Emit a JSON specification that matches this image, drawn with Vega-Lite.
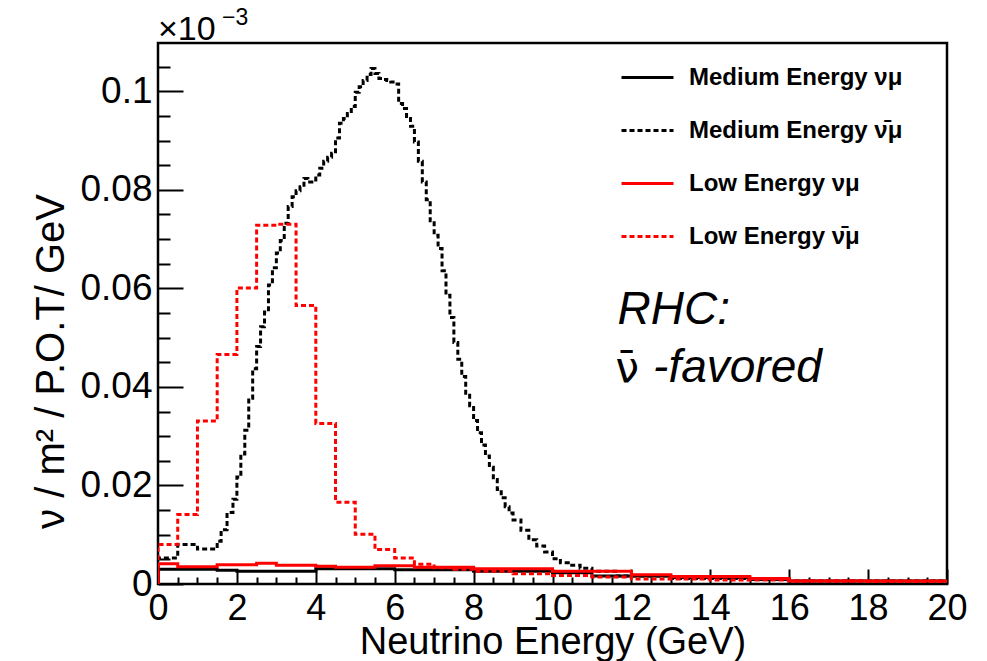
{
  "$schema": "https://vega.github.io/schema/vega-lite/v6.json",
  "width": 789,
  "height": 541,
  "autosize": {"type": "none"},
  "padding": {"left": 158, "top": 43, "right": 40, "bottom": 77},
  "background": "white",
  "config": {
    "font": "Liberation Sans",
    "view": {"stroke": "black", "strokeWidth": 2.5},
    "axis": {"grid": false, "domain": false, "labelColor": "black", "titleColor": "black", "tickColor": "black", "tickWidth": 2},
    "legend": {
      "orient": "none", "legendX": 462, "legendY": 7, "padding": 0,
      "symbolType": "stroke", "symbolSize": 2704, "symbolStrokeWidth": 3,
      "labelFont": "Liberation Sans", "labelFontWeight": "bold", "labelFontSize": 24, "labelLimit": 400,
      "labelColor": "black", "labelOffset": 14, "rowPadding": 13, "title": null
    }
  },
  "data": {"values": [
    {"series": "Medium Energy νμ", "E": 0, "v": 0},
    {"series": "Medium Energy νμ", "E": 0, "v": 0.0030},
    {"series": "Medium Energy νμ", "E": 1.5, "v": 0.0028},
    {"series": "Medium Energy νμ", "E": 2.0, "v": 0.0026},
    {"series": "Medium Energy νμ", "E": 4.0, "v": 0.0031},
    {"series": "Medium Energy νμ", "E": 6.0, "v": 0.0029},
    {"series": "Medium Energy νμ", "E": 8.0, "v": 0.0026},
    {"series": "Medium Energy νμ", "E": 10.0, "v": 0.0023},
    {"series": "Medium Energy νμ", "E": 11.0, "v": 0.0016},
    {"series": "Medium Energy νμ", "E": 13.0, "v": 0.0013},
    {"series": "Medium Energy νμ", "E": 15.0, "v": 0.0009},
    {"series": "Medium Energy νμ", "E": 16.0, "v": 0.0006},
    {"series": "Medium Energy νμ", "E": 20.0, "v": 0.0006},

    {"series": "Medium Energy ν̄μ", "E": 0, "v": 0},
    {"series": "Medium Energy ν̄μ", "E": 0, "v": 0.0053},
    {"series": "Medium Energy ν̄μ", "E": 0.5, "v": 0.008},
    {"series": "Medium Energy ν̄μ", "E": 1.0, "v": 0.0071},
    {"series": "Medium Energy ν̄μ", "E": 1.5, "v": 0.0087},
    {"series": "Medium Energy ν̄μ", "E": 1.6, "v": 0.011},
    {"series": "Medium Energy ν̄μ", "E": 1.75, "v": 0.0145},
    {"series": "Medium Energy ν̄μ", "E": 1.9, "v": 0.0172},
    {"series": "Medium Energy ν̄μ", "E": 2.0, "v": 0.0217},
    {"series": "Medium Energy ν̄μ", "E": 2.1, "v": 0.0264},
    {"series": "Medium Energy ν̄μ", "E": 2.2, "v": 0.0312},
    {"series": "Medium Energy ν̄μ", "E": 2.3, "v": 0.0377},
    {"series": "Medium Energy ν̄μ", "E": 2.4, "v": 0.0437},
    {"series": "Medium Energy ν̄μ", "E": 2.5, "v": 0.0482},
    {"series": "Medium Energy ν̄μ", "E": 2.6, "v": 0.0522},
    {"series": "Medium Energy ν̄μ", "E": 2.7, "v": 0.0552},
    {"series": "Medium Energy ν̄μ", "E": 2.8, "v": 0.0607},
    {"series": "Medium Energy ν̄μ", "E": 2.9, "v": 0.0642},
    {"series": "Medium Energy ν̄μ", "E": 3.0, "v": 0.0672},
    {"series": "Medium Energy ν̄μ", "E": 3.1, "v": 0.0697},
    {"series": "Medium Energy ν̄μ", "E": 3.2, "v": 0.0732},
    {"series": "Medium Energy ν̄μ", "E": 3.3, "v": 0.0766},
    {"series": "Medium Energy ν̄μ", "E": 3.4, "v": 0.0786},
    {"series": "Medium Energy ν̄μ", "E": 3.5, "v": 0.0798},
    {"series": "Medium Energy ν̄μ", "E": 3.6, "v": 0.0806},
    {"series": "Medium Energy ν̄μ", "E": 3.7, "v": 0.0823},
    {"series": "Medium Energy ν̄μ", "E": 3.8, "v": 0.0816},
    {"series": "Medium Energy ν̄μ", "E": 3.9, "v": 0.082},
    {"series": "Medium Energy ν̄μ", "E": 4.0, "v": 0.083},
    {"series": "Medium Energy ν̄μ", "E": 4.1, "v": 0.0844},
    {"series": "Medium Energy ν̄μ", "E": 4.2, "v": 0.0858},
    {"series": "Medium Energy ν̄μ", "E": 4.3, "v": 0.0866},
    {"series": "Medium Energy ν̄μ", "E": 4.4, "v": 0.0874},
    {"series": "Medium Energy ν̄μ", "E": 4.5, "v": 0.0905},
    {"series": "Medium Energy ν̄μ", "E": 4.6, "v": 0.0935},
    {"series": "Medium Energy ν̄μ", "E": 4.7, "v": 0.0945},
    {"series": "Medium Energy ν̄μ", "E": 4.8, "v": 0.0955},
    {"series": "Medium Energy ν̄μ", "E": 4.9, "v": 0.0969},
    {"series": "Medium Energy ν̄μ", "E": 5.0, "v": 0.0998},
    {"series": "Medium Energy ν̄μ", "E": 5.1, "v": 0.1009},
    {"series": "Medium Energy ν̄μ", "E": 5.2, "v": 0.1022},
    {"series": "Medium Energy ν̄μ", "E": 5.3, "v": 0.1034},
    {"series": "Medium Energy ν̄μ", "E": 5.4, "v": 0.1046},
    {"series": "Medium Energy ν̄μ", "E": 5.5, "v": 0.1036},
    {"series": "Medium Energy ν̄μ", "E": 5.6, "v": 0.1026},
    {"series": "Medium Energy ν̄μ", "E": 5.7, "v": 0.1024},
    {"series": "Medium Energy ν̄μ", "E": 5.8, "v": 0.1022},
    {"series": "Medium Energy ν̄μ", "E": 5.9, "v": 0.1019},
    {"series": "Medium Energy ν̄μ", "E": 6.0, "v": 0.1015},
    {"series": "Medium Energy ν̄μ", "E": 6.1, "v": 0.0975},
    {"series": "Medium Energy ν̄μ", "E": 6.2, "v": 0.0965},
    {"series": "Medium Energy ν̄μ", "E": 6.3, "v": 0.0945},
    {"series": "Medium Energy ν̄μ", "E": 6.4, "v": 0.0929},
    {"series": "Medium Energy ν̄μ", "E": 6.5, "v": 0.0897},
    {"series": "Medium Energy ν̄μ", "E": 6.6, "v": 0.0858},
    {"series": "Medium Energy ν̄μ", "E": 6.7, "v": 0.0816},
    {"series": "Medium Energy ν̄μ", "E": 6.8, "v": 0.078},
    {"series": "Medium Energy ν̄μ", "E": 6.9, "v": 0.0737},
    {"series": "Medium Energy ν̄μ", "E": 7.0, "v": 0.0708},
    {"series": "Medium Energy ν̄μ", "E": 7.1, "v": 0.0681},
    {"series": "Medium Energy ν̄μ", "E": 7.2, "v": 0.0636},
    {"series": "Medium Energy ν̄μ", "E": 7.3, "v": 0.0586},
    {"series": "Medium Energy ν̄μ", "E": 7.4, "v": 0.0541},
    {"series": "Medium Energy ν̄μ", "E": 7.5, "v": 0.049},
    {"series": "Medium Energy ν̄μ", "E": 7.6, "v": 0.0456},
    {"series": "Medium Energy ν̄μ", "E": 7.7, "v": 0.0421},
    {"series": "Medium Energy ν̄μ", "E": 7.8, "v": 0.0387},
    {"series": "Medium Energy ν̄μ", "E": 7.9, "v": 0.0362},
    {"series": "Medium Energy ν̄μ", "E": 8.0, "v": 0.0332},
    {"series": "Medium Energy ν̄μ", "E": 8.1, "v": 0.0307},
    {"series": "Medium Energy ν̄μ", "E": 8.2, "v": 0.0282},
    {"series": "Medium Energy ν̄μ", "E": 8.3, "v": 0.026},
    {"series": "Medium Energy ν̄μ", "E": 8.4, "v": 0.0237},
    {"series": "Medium Energy ν̄μ", "E": 8.5, "v": 0.0212},
    {"series": "Medium Energy ν̄μ", "E": 8.6, "v": 0.0192},
    {"series": "Medium Energy ν̄μ", "E": 8.7, "v": 0.0175},
    {"series": "Medium Energy ν̄μ", "E": 8.8, "v": 0.0157},
    {"series": "Medium Energy ν̄μ", "E": 8.9, "v": 0.0144},
    {"series": "Medium Energy ν̄μ", "E": 9.0, "v": 0.013},
    {"series": "Medium Energy ν̄μ", "E": 9.2, "v": 0.0109},
    {"series": "Medium Energy ν̄μ", "E": 9.4, "v": 0.009},
    {"series": "Medium Energy ν̄μ", "E": 9.6, "v": 0.0077},
    {"series": "Medium Energy ν̄μ", "E": 9.8, "v": 0.0065},
    {"series": "Medium Energy ν̄μ", "E": 10.0, "v": 0.0051},
    {"series": "Medium Energy ν̄μ", "E": 10.2, "v": 0.0043},
    {"series": "Medium Energy ν̄μ", "E": 10.4, "v": 0.0038},
    {"series": "Medium Energy ν̄μ", "E": 10.7, "v": 0.0032},
    {"series": "Medium Energy ν̄μ", "E": 11.0, "v": 0.0026},
    {"series": "Medium Energy ν̄μ", "E": 11.6, "v": 0.0016},
    {"series": "Medium Energy ν̄μ", "E": 13.0, "v": 0.0011},
    {"series": "Medium Energy ν̄μ", "E": 16.0, "v": 0.0006},
    {"series": "Medium Energy ν̄μ", "E": 20.0, "v": 0.0006},

    {"series": "Low Energy νμ", "E": 0, "v": 0},
    {"series": "Low Energy νμ", "E": 0, "v": 0.0041},
    {"series": "Low Energy νμ", "E": 0.5, "v": 0.0035},
    {"series": "Low Energy νμ", "E": 1.5, "v": 0.0039},
    {"series": "Low Energy νμ", "E": 2.5, "v": 0.0042},
    {"series": "Low Energy νμ", "E": 3.0, "v": 0.0038},
    {"series": "Low Energy νμ", "E": 4.0, "v": 0.0036},
    {"series": "Low Energy νμ", "E": 4.5, "v": 0.0034},
    {"series": "Low Energy νμ", "E": 5.5, "v": 0.0037},
    {"series": "Low Energy νμ", "E": 6.5, "v": 0.0034},
    {"series": "Low Energy νμ", "E": 8.0, "v": 0.0031},
    {"series": "Low Energy νμ", "E": 10.0, "v": 0.0026},
    {"series": "Low Energy νμ", "E": 12.0, "v": 0.0019},
    {"series": "Low Energy νμ", "E": 13.0, "v": 0.0015},
    {"series": "Low Energy νμ", "E": 15.0, "v": 0.0011},
    {"series": "Low Energy νμ", "E": 16.0, "v": 0.0006},
    {"series": "Low Energy νμ", "E": 20.0, "v": 0.0006},

    {"series": "Low Energy ν̄μ", "E": 0, "v": 0},
    {"series": "Low Energy ν̄μ", "E": 0, "v": 0.008},
    {"series": "Low Energy ν̄μ", "E": 0.5, "v": 0.0141},
    {"series": "Low Energy ν̄μ", "E": 1.0, "v": 0.0331},
    {"series": "Low Energy ν̄μ", "E": 1.5, "v": 0.0466},
    {"series": "Low Energy ν̄μ", "E": 2.0, "v": 0.0601},
    {"series": "Low Energy ν̄μ", "E": 2.5, "v": 0.0728},
    {"series": "Low Energy ν̄μ", "E": 3.0, "v": 0.073},
    {"series": "Low Energy ν̄μ", "E": 3.5, "v": 0.0565},
    {"series": "Low Energy ν̄μ", "E": 4.0, "v": 0.0326},
    {"series": "Low Energy ν̄μ", "E": 4.5, "v": 0.0166},
    {"series": "Low Energy ν̄μ", "E": 5.0, "v": 0.0101},
    {"series": "Low Energy ν̄μ", "E": 5.5, "v": 0.007},
    {"series": "Low Energy ν̄μ", "E": 6.0, "v": 0.0053},
    {"series": "Low Energy ν̄μ", "E": 6.5, "v": 0.004},
    {"series": "Low Energy ν̄μ", "E": 7.0, "v": 0.0033},
    {"series": "Low Energy ν̄μ", "E": 7.5, "v": 0.003},
    {"series": "Low Energy ν̄μ", "E": 8.0, "v": 0.0026},
    {"series": "Low Energy ν̄μ", "E": 9.0, "v": 0.0021},
    {"series": "Low Energy ν̄μ", "E": 10.0, "v": 0.0017},
    {"series": "Low Energy ν̄μ", "E": 11.0, "v": 0.0014},
    {"series": "Low Energy ν̄μ", "E": 12.0, "v": 0.001},
    {"series": "Low Energy ν̄μ", "E": 14.0, "v": 0.0008},
    {"series": "Low Energy ν̄μ", "E": 16.0, "v": 0.0006},
    {"series": "Low Energy ν̄μ", "E": 18.0, "v": 0.0005},
    {"series": "Low Energy ν̄μ", "E": 20.0, "v": 0.0005}
  ]},
  "resolve": {"axis": {"x": "independent", "y": "independent"}},
  "layer": [
    {
      "mark": {"type": "line", "interpolate": "step-after", "strokeWidth": 3, "clip": true},
      "encoding": {
        "x": {"field": "E", "type": "quantitative",
          "scale": {"domain": [0, 20], "nice": false, "zero": false},
          "axis": {"orient": "bottom", "values": [0, 2, 4, 6, 8, 10, 12, 14, 16, 18, 20], "format": "d",
            "tickSize": -15, "labelPadding": 22.5, "labelFontSize": 36, "labelFlush": false, "labelOverlap": false,
            "title": "Neutrino Energy (GeV)", "titleFontSize": 38, "titleFontWeight": "normal",
            "titleX": 394.5, "titleY": 69.5, "titleAnchor": null, "titleAlign": "center", "titleBaseline": "alphabetic"}},
        "y": {"field": "v", "type": "quantitative",
          "scale": {"domain": [0, 0.1098], "nice": false, "zero": true},
          "axis": {"orient": "left", "values": [0, 0.02, 0.04, 0.06, 0.08, 0.1], "labelExpr": "datum.value == 0 ? '0' : format(datum.value, '.2~f')",
            "tickSize": -25, "labelPadding": 31, "labelFontSize": 37, "labelFlush": false, "labelOverlap": false,
            "title": "ν / m² / P.O.T/ GeV", "titleFontSize": 40, "titleFontWeight": "normal",
            "titleX": -95, "titleY": 318, "titleAngle": 270, "titleAlign": "center", "titleBaseline": "alphabetic"}},
        "color": {"field": "series", "type": "nominal",
          "scale": {"domain": ["Medium Energy νμ", "Medium Energy ν̄μ", "Low Energy νμ", "Low Energy ν̄μ"],
                    "range": ["#000000", "#000000", "#ff0000", "#ff0000"]}},
        "strokeDash": {"field": "series", "type": "nominal",
          "scale": {"domain": ["Medium Energy νμ", "Medium Energy ν̄μ", "Low Energy νμ", "Low Energy ν̄μ"],
                    "range": [[1, 0], [5, 3], [1, 0], [5, 3]]}}
      }
    },
    {
      "mark": {"type": "point", "opacity": 0},
      "encoding": {
        "x": {"field": "E", "type": "quantitative",
          "axis": {"orient": "bottom", "values": [0.5, 1, 1.5, 2.5, 3, 3.5, 4.5, 5, 5.5, 6.5, 7, 7.5, 8.5, 9, 9.5, 10.5, 11, 11.5, 12.5, 13, 13.5, 14.5, 15, 15.5, 16.5, 17, 17.5, 18.5, 19, 19.5],
            "labels": false, "tickSize": -7, "title": null}},
        "y": {"field": "v", "type": "quantitative",
          "axis": {"orient": "left", "values": [0.005, 0.01, 0.015, 0.025, 0.03, 0.035, 0.045, 0.05, 0.055, 0.065, 0.07, 0.075, 0.085, 0.09, 0.095, 0.105],
            "labels": false, "tickSize": -12, "title": null}}
      }
    },
    {
      "data": {"values": [{"label": "RHC:"}]},
      "mark": {"type": "text", "align": "left", "baseline": "alphabetic", "font": "Liberation Sans", "fontStyle": "italic", "fontWeight": "normal", "fontSize": 46},
      "encoding": {"text": {"field": "label"}, "x": {"datum": 11.65, "axis": null}, "y": {"datum": 0.0527, "axis": null}}
    },
    {
      "data": {"values": [{"label": "ν̄"}]},
      "mark": {"type": "text", "align": "left", "baseline": "alphabetic", "font": "DejaVu Sans", "fontWeight": "normal", "fontSize": 42},
      "encoding": {"text": {"field": "label"}, "x": {"datum": 11.6, "axis": null}, "y": {"datum": 0.041, "axis": null}}
    },
    {
      "data": {"values": [{"label": "-favored"}]},
      "mark": {"type": "text", "align": "left", "baseline": "alphabetic", "font": "Liberation Sans", "fontStyle": "italic", "fontWeight": "normal", "fontSize": 46},
      "encoding": {"text": {"field": "label"}, "x": {"datum": 12.55, "axis": null}, "y": {"datum": 0.041, "axis": null}}
    },
    {
      "data": {"values": [{"label": "×10"}]},
      "mark": {"type": "text", "align": "left", "baseline": "alphabetic", "font": "Liberation Sans", "fontWeight": "normal", "fontSize": 34, "dy": -3.5, "clip": false},
      "encoding": {"text": {"field": "label"}, "x": {"datum": 0, "axis": null}, "y": {"datum": 0.1098, "axis": null}}
    },
    {
      "data": {"values": [{"label": "−3"}]},
      "mark": {"type": "text", "align": "left", "baseline": "alphabetic", "font": "Liberation Sans", "fontWeight": "normal", "fontSize": 23, "dx": 64, "dy": -18.5, "clip": false},
      "encoding": {"text": {"field": "label"}, "x": {"datum": 0, "axis": null}, "y": {"datum": 0.1098, "axis": null}}
    }
  ]
}
